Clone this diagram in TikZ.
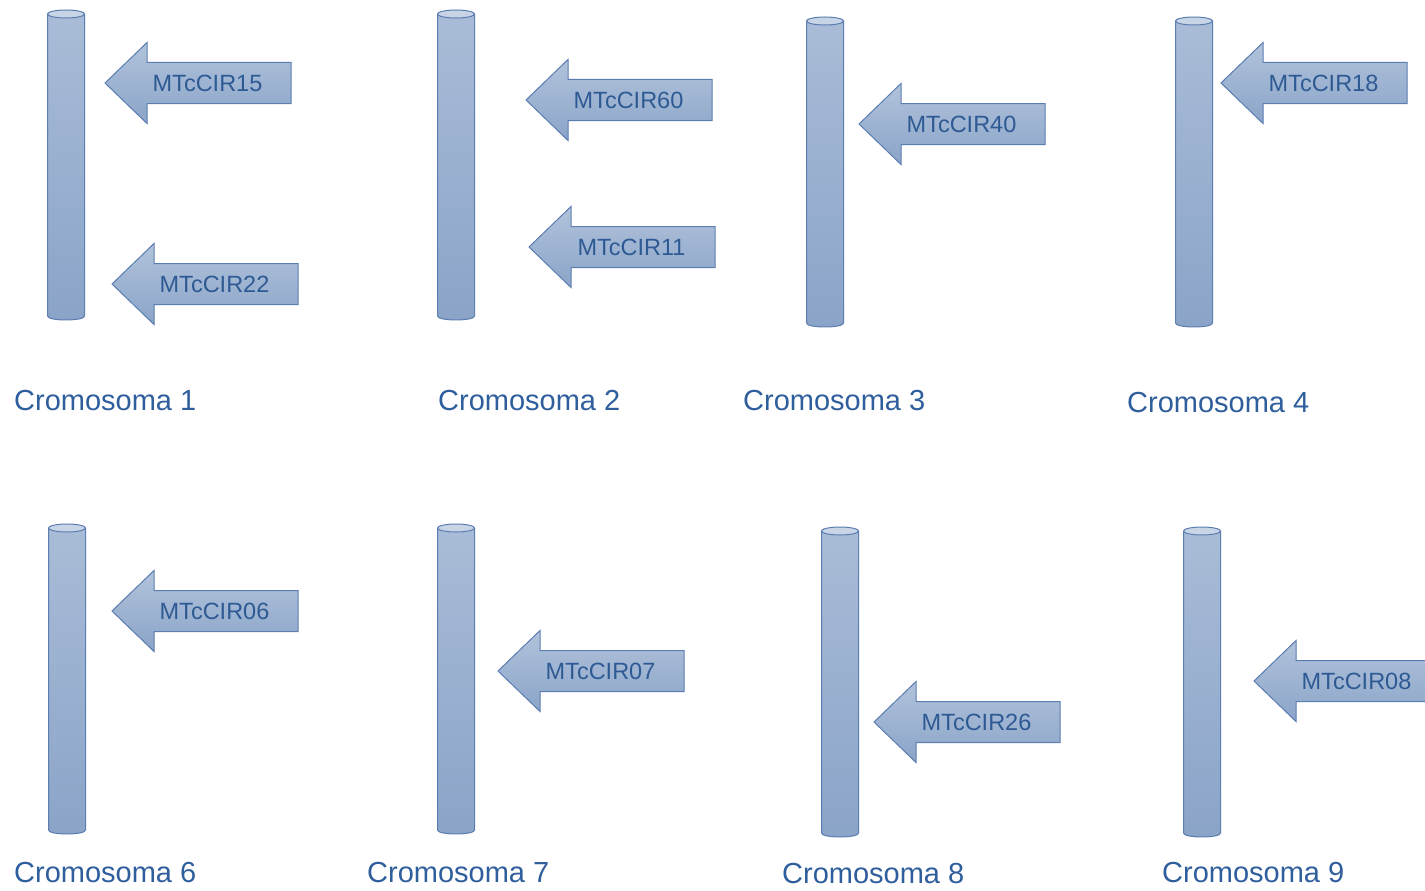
\documentclass[tikz,border=0pt]{standalone}
\usepackage{fontspec}
\setmainfont{Liberation Sans}
\definecolor{cylborder}{HTML}{5B7DB1}
\definecolor{cyltop}{HTML}{A9BCD7}
\definecolor{cylbot}{HTML}{8AA4C8}
\definecolor{cylcap}{HTML}{C8D5E7}
\definecolor{txtblue}{HTML}{2E5A94}
\definecolor{lblblue}{HTML}{2F5E9C}
\tikzset{
  cylbody/.style={draw=cylborder, line width=1pt, top color=cyltop, bottom color=cylbot},
  cylcapst/.style={draw=cylborder, line width=1pt, fill=cylcap},
  arrowst/.style={draw=cylborder, line width=1pt, top color=cyltop!90!white, bottom color=cylbot, line join=miter},
  mtext/.style={text=txtblue, font=\fontsize{23.5}{26}\selectfont, inner sep=0pt},
  clabel/.style={text=lblblue, font=\fontsize{29}{32}\selectfont, inner sep=0pt, anchor=west}
}
\newcommand\chromo[4]{% name, cx, top, bottom
  \path[cylbody] (#2-18.5,#3) -- (#2-18.5,#4)
    .. controls (#2-18.5,#4+5.3) and (#2+18.5,#4+5.3) .. (#2+18.5,#4)
    -- (#2+18.5,#3) -- cycle;
  \draw[cylcapst] (#2,#3) ellipse [x radius=18.5pt, y radius=4pt];
  \coordinate (#1) at (#2,#3);
}
\newcommand\marker[4]{% name, tip x, y, text
  \path[arrowst] (#2,#3) -- (#2+42,#3-40.5) -- (#2+42,#3-20.5) -- (#2+186,#3-20.5)
    -- (#2+186,#3+20.5) -- (#2+42,#3+20.5) -- (#2+42,#3+40.5) -- cycle;
  \node[mtext] (#1) at (#2+102.5,#3) {#4};
}
\begin{document}
\begin{tikzpicture}[x=1pt,y=-1pt]
\useasboundingbox (0,0) rectangle (1425,891);
\chromo{k1}{66}{14}{316}
\chromo{k2}{456}{14}{316}
\chromo{k3}{825}{21}{323}
\chromo{k4}{1194}{21}{323}
\chromo{k6}{67}{528}{830}
\chromo{k7}{456}{528}{830}
\chromo{k8}{840}{531}{833}
\chromo{k9}{1202}{531}{833}

\marker{m15}{105}{83}{MTcCIR15}
\marker{m22}{112}{284}{MTcCIR22}
\marker{m60}{526}{100}{MTcCIR60}
\marker{m11}{529}{247}{MTcCIR11}
\marker{m40}{859}{124}{MTcCIR40}
\marker{m18}{1221}{83}{MTcCIR18}
\marker{m06}{112}{611}{MTcCIR06}
\marker{m07}{498}{671}{MTcCIR07}
\marker{m26}{874}{722}{MTcCIR26}
\marker{m08}{1254}{681}{MTcCIR08}

\node[clabel] (c1) at (14,401) {Cromosoma 1};
\node[clabel] (c2) at (438,401) {Cromosoma 2};
\node[clabel] (c3) at (743,401) {Cromosoma 3};
\node[clabel] (c4) at (1127,403) {Cromosoma 4};
\node[clabel] (c6) at (14,873) {Cromosoma 6};
\node[clabel] (c7) at (367,873) {Cromosoma 7};
\node[clabel] (c8) at (782,874) {Cromosoma 8};
\node[clabel] (c9) at (1162,873) {Cromosoma 9};
\end{tikzpicture}
\end{document}
